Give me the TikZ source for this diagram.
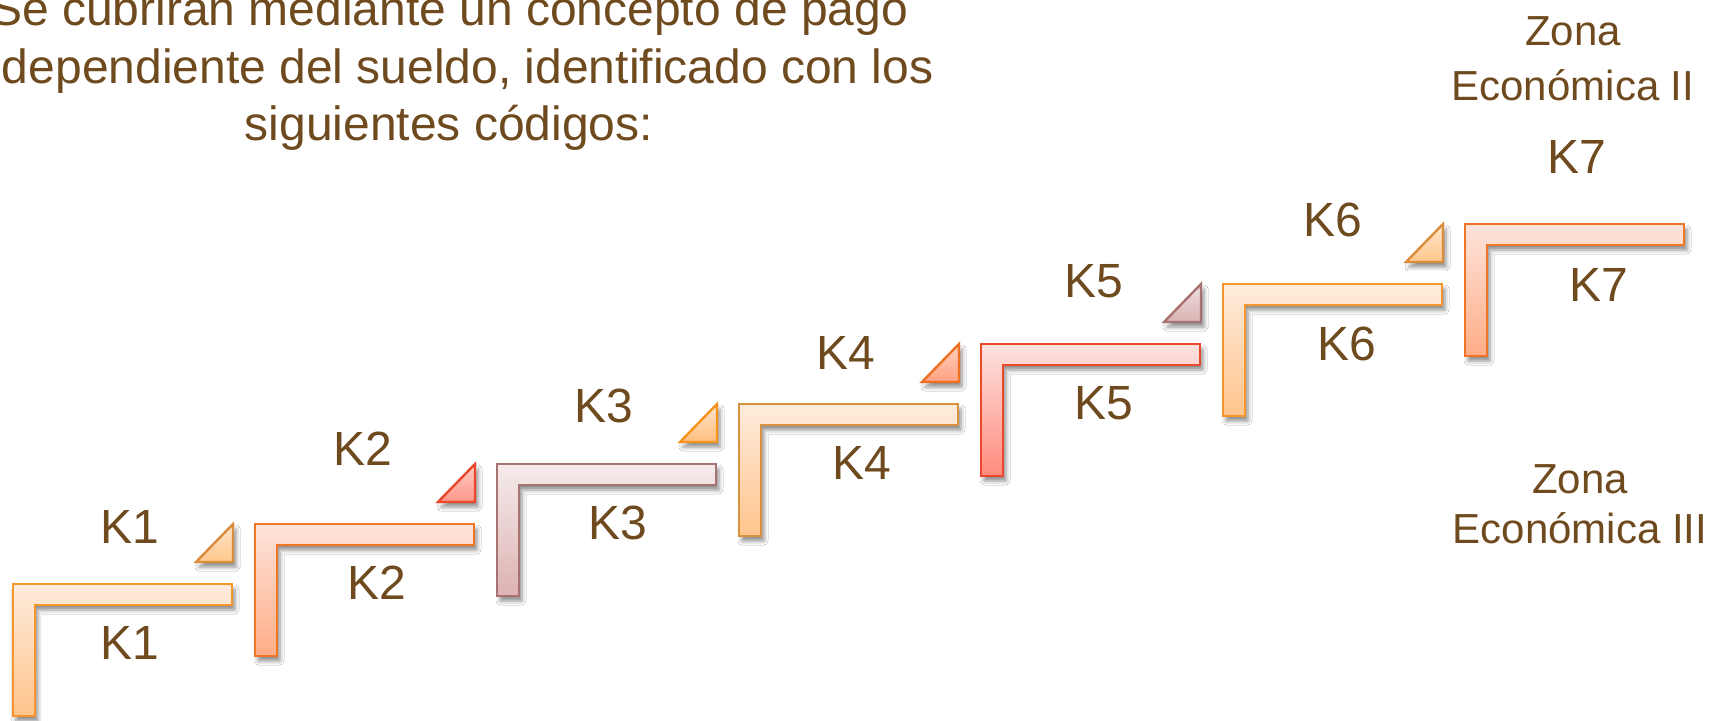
\documentclass[tikz,border=0pt]{standalone}
\usepackage{fontspec}
\setmainfont{Liberation Sans}
\usetikzlibrary{shadows.blur}
\definecolor{txt}{HTML}{6E4A1E}
\tikzset{
  shd/.style={blur shadow={shadow xshift=1.5pt, shadow yshift=-2.5pt, shadow blur radius=2pt, shadow opacity=45}},
  palA/.style={shd, draw={rgb,255:red,247;green,150;blue,47}, line width=1.2pt, top color={rgb,255:red,254;green,236;blue,220}, bottom color={rgb,255:red,255;green,196;blue,140}},
  palB/.style={shd, draw={rgb,255:red,216;green,145;blue,62}, line width=1.2pt, top color={rgb,255:red,254;green,236;blue,220}, bottom color={rgb,255:red,255;green,196;blue,140}},
  palC/.style={shd, draw={rgb,255:red,240;green,117;blue,36}, line width=1.2pt, top color={rgb,255:red,253;green,228;blue,219}, bottom color={rgb,255:red,255;green,173;blue,134}},
  palD/.style={shd, draw={rgb,255:red,167;green,114;blue,114}, line width=1.2pt, top color={rgb,255:red,245;green,235;blue,235}, bottom color={rgb,255:red,221;green,178;blue,178}},
  palE/.style={shd, draw={rgb,255:red,233;green,72;blue,43}, line width=1.2pt, top color={rgb,255:red,253;green,226;blue,224}, bottom color={rgb,255:red,255;green,139;blue,125}},
  triA/.style={shd, draw={rgb,255:red,216;green,140;blue,60}, line width=1.2pt, top color={rgb,255:red,254;green,230;blue,204}, bottom color={rgb,255:red,255;green,198;blue,140}},
  triB/.style={shd, draw={rgb,255:red,233;green,72;blue,43}, line width=1.2pt, top color={rgb,255:red,255;green,205;blue,198}, bottom color={rgb,255:red,255;green,150;blue,136}},
  triC/.style={shd, draw={rgb,255:red,247;green,148;blue,29}, line width=1.2pt, top color={rgb,255:red,254;green,230;blue,204}, bottom color={rgb,255:red,255;green,190;blue,128}},
  triD/.style={shd, draw={rgb,255:red,240;green,112;blue,34}, line width=1.2pt, top color={rgb,255:red,255;green,210;blue,190}, bottom color={rgb,255:red,255;green,160;blue,128}},
  triE/.style={shd, draw={rgb,255:red,167;green,114;blue,114}, line width=1.2pt, top color={rgb,255:red,240;green,224;blue,224}, bottom color={rgb,255:red,216;green,178;blue,178}},
  stairstep/.style={shift={#1}, insert path={(0,0) -- (219,0) -- (219,21) -- (22,21) -- (22,132) -- (0,132) -- cycle}},
  wedge/.style={shift={#1}, insert path={(0,38) -- (37,38) -- (37,0) -- cycle}},
  klab/.style={text=txt, font=\fontsize{24}{28.8}\selectfont, inner sep=0pt},
  intro/.style={text=txt, font=\fontsize{24}{28.8}\selectfont, inner sep=0pt, anchor=base},
  zona/.style={text=txt, font=\fontsize{21}{25.2}\selectfont, inner sep=0pt, anchor=base},
}
\begin{document}
\begin{tikzpicture}[x=0.5pt,y=-0.5pt]
\path[clip] (0,0) rectangle (1725,721);
\fill[white] (0,0) rectangle (1725,721);

% steps
\path[palA, stairstep={(13,584)}];
\path[palC, stairstep={(255,524)}];
\path[palD, stairstep={(497,464)}];
\path[palB, stairstep={(739,404)}];
\path[palE, stairstep={(981,344)}];
\path[palA, stairstep={(1223,284)}];
\path[palC, stairstep={(1465,224)}];

% wedges
\path[triA, wedge={(196,524)}];
\path[triB, wedge={(438,464)}];
\path[triC, wedge={(680,404)}];
\path[triD, wedge={(922,344)}];
\path[triE, wedge={(1164,284)}];
\path[triA, wedge={(1406,224)}];

% labels above
\node[klab] (k1u) at (130,527) {K1};
\node[klab] (k2u) at (363,449) {K2};
\node[klab] (k3u) at (604,406) {K3};
\node[klab] (k4u) at (846,353) {K4};
\node[klab] (k5u) at (1094,281) {K5};
\node[klab] (k6u) at (1333,220) {K6};
\node[klab] (k7u) at (1577,157) {K7};
% labels below
\node[klab] (k1d) at (130,643) {K1};
\node[klab] (k2d) at (377,583) {K2};
\node[klab] (k3d) at (618,523) {K3};
\node[klab] (k4d) at (862,463) {K4};
\node[klab] (k5d) at (1104,403) {K5};
\node[klab] (k6d) at (1347,344) {K6};
\node[klab] (k7d) at (1599,285) {K7};

% intro text
\node[intro] (intro1) at (449,26) {Se cubrirán mediante un concepto de pago};
\node[intro] (intro2) at (449,84) {independiente del sueldo, identificado con los};
\node[intro] (intro3) at (449,141) {siguientes códigos:};

% zones
\node[zona] (z2a) at (1573,46) {Zona};
\node[zona] (z2b) at (1573,101) {Económica II};
\node[zona] (z3a) at (1580,494) {Zona};
\node[zona] (z3b) at (1580,544) {Económica III};
\end{tikzpicture}
\end{document}
